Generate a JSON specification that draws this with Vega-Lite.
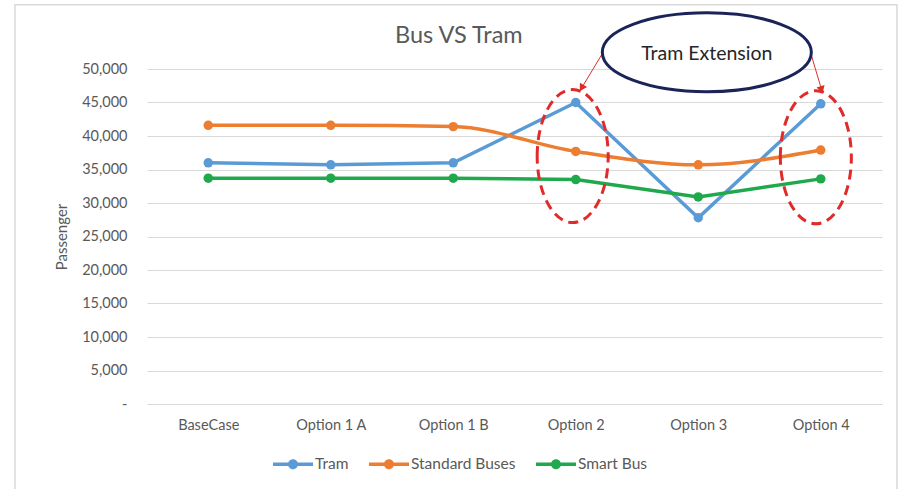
{
  "$schema": "https://vega.github.io/schema/vega-lite/v6.json",
  "width": 735,
  "height": 335,
  "autosize": "none",
  "padding": {"left": 147, "top": 69, "right": 21, "bottom": 85},
  "background": "white",
  "config": {"view": {"stroke": null}, "font": "Lato"},
  "title": {
    "text": "Bus VS Tram",
    "anchor": "start",
    "frame": "group",
    "dx": 248,
    "offset": -44,
    "fontSize": 23.5,
    "font": "Lato",
    "fontWeight": "normal",
    "color": "#595959"
  },
  "datasets": {
    "series": [
      {"option": "BaseCase", "idx": 0, "series": "Tram", "passengers": 36000},
      {"option": "Option 1 A", "idx": 1, "series": "Tram", "passengers": 35700},
      {"option": "Option 1 B", "idx": 2, "series": "Tram", "passengers": 36000},
      {"option": "Option 2", "idx": 3, "series": "Tram", "passengers": 45000},
      {"option": "Option 3", "idx": 4, "series": "Tram", "passengers": 27800},
      {"option": "Option 4", "idx": 5, "series": "Tram", "passengers": 44800},
      {"option": "BaseCase", "idx": 0, "series": "Standard Buses", "passengers": 41600},
      {"option": "Option 1 A", "idx": 1, "series": "Standard Buses", "passengers": 41600},
      {"option": "Option 1 B", "idx": 2, "series": "Standard Buses", "passengers": 41400},
      {"option": "Option 2", "idx": 3, "series": "Standard Buses", "passengers": 37700},
      {"option": "Option 3", "idx": 4, "series": "Standard Buses", "passengers": 35700},
      {"option": "Option 4", "idx": 5, "series": "Standard Buses", "passengers": 37900},
      {"option": "BaseCase", "idx": 0, "series": "Smart Bus", "passengers": 33700},
      {"option": "Option 1 A", "idx": 1, "series": "Smart Bus", "passengers": 33700},
      {"option": "Option 1 B", "idx": 2, "series": "Smart Bus", "passengers": 33700},
      {"option": "Option 2", "idx": 3, "series": "Smart Bus", "passengers": 33500},
      {"option": "Option 3", "idx": 4, "series": "Smart Bus", "passengers": 30900},
      {"option": "Option 4", "idx": 5, "series": "Smart Bus", "passengers": 33600}
    ]
  },
  "encoding": {
    "x": {
      "field": "idx",
      "type": "quantitative",
      "scale": {"domain": [-0.5, 5.5], "nice": false, "zero": false},
      "axis": {
        "values": [0, 1, 2, 3, 4, 5],
        "labelExpr": "['BaseCase','Option 1 A','Option 1 B','Option 2','Option 3','Option 4'][datum.value]",
        "title": null,
        "grid": false,
        "ticks": false,
        "domain": false,
        "labelPadding": 14,
        "labelFontSize": 14.5,
        "labelColor": "#595959",
        "labelFont": "Lato"
      }
    },
    "y": {
      "field": "passengers",
      "type": "quantitative",
      "scale": {"domain": [0, 50000], "nice": false},
      "axis": {
        "values": [0, 5000, 10000, 15000, 20000, 25000, 30000, 35000, 40000, 45000, 50000],
        "labelExpr": "datum.value == 0 ? '-\u00a0\u00a0\u00a0' : format(datum.value, ',')",
        "title": "Passenger",
        "grid": true,
        "gridColor": "#d9d9d9",
        "gridWidth": 1,
        "domain": false,
        "ticks": false,
        "labelPadding": 20,
        "labelFontSize": 14.5,
        "labelColor": "#595959",
        "labelFont": "Lato",
        "titleFont": "Lato",
        "titleFontSize": 15,
        "titleColor": "#595959",
        "titleFontWeight": "normal",
        "titlePadding": 12
      }
    }
  },
  "layer": [
    {
      "data": {"values": [{"idx": -1.578, "idx2": 5.622, "passengers": 59600, "passengers2": -14000}]},
      "mark": {"type": "rect", "fill": null, "filled": false, "stroke": "#d9d9d9", "strokeWidth": 1.5},
      "encoding": {"x2": {"field": "idx2"}, "y2": {"field": "passengers2"}}
    },
    {
      "data": {"name": "series"},
      "transform": [{"filter": "datum.series != 'Standard Buses'"}],
      "mark": {"type": "line", "strokeWidth": 3.5},
      "encoding": {
        "color": {
          "field": "series",
          "type": "nominal",
          "scale": {"domain": ["Tram", "Standard Buses", "Smart Bus"], "range": ["#5b9bd5", "#ed7d31", "#1fa84c"]},
          "legend": {
            "orient": "none",
            "legendX": 126,
            "legendY": 375,
            "direction": "horizontal",
            "title": null,
            "symbolType": "M-1,-0.09L1,-0.09L1,0.09L-1,0.09Z M-0.25,0A0.25,0.25 0 1,1 0.25,0A0.25,0.25 0 1,1 -0.25,0Z",
            "symbolSize": 1600,
            "symbolStrokeWidth": 0,
            "labelFontSize": 15.5,
            "labelColor": "#595959",
            "labelFont": "Lato",
            "labelOffset": 2,
            "columnPadding": 20,
            "encode": {"symbols": {"update": {"fill": {"scale": "color", "field": "value"}, "stroke": {"value": "transparent"}, "opacity": {"value": 1}}}}
          }
        }
      }
    },
    {
      "data": {"name": "series"},
      "transform": [{"filter": "datum.series == 'Standard Buses'"}],
      "mark": {"type": "line", "strokeWidth": 3.5, "interpolate": "monotone"},
      "encoding": {"color": {"field": "series", "type": "nominal"}}
    },
    {
      "data": {"name": "series"},
      "mark": {"type": "point", "filled": true, "size": 90, "opacity": 1},
      "encoding": {"color": {"field": "series", "type": "nominal"}}
    },
    {
      "data": {"values": [{"idx": 2.975, "passengers": 37000}, {"idx": 4.96, "passengers": 36830}]},
      "mark": {
        "type": "point",
        "shape": "M-0.534,0A0.534,1 0 1,1 0.534,0A0.534,1 0 1,1 -0.534,0Z",
        "size": 17689,
        "filled": false,
        "stroke": "#e02b2b",
        "strokeWidth": 3,
        "strokeDash": [10, 6],
        "opacity": 1
      }
    },
    {
      "data": {"values": [{"idx": 3.22, "passengers": 52390, "idx2": 3.048, "passengers2": 47160}, {"idx": 4.926, "passengers": 51880, "idx2": 5.007, "passengers2": 46910}]},
      "mark": {"type": "rule", "stroke": "#e02b2b", "strokeWidth": 1},
      "encoding": {"x2": {"field": "idx2"}, "y2": {"field": "passengers2"}}
    },
    {
      "data": {"values": [{"idx": 3.048, "passengers": 47160}]},
      "mark": {"type": "point", "shape": "triangle-up", "size": 70, "filled": true, "color": "#e02b2b", "angle": 211, "opacity": 1}
    },
    {
      "data": {"values": [{"idx": 5.007, "passengers": 46910}]},
      "mark": {"type": "point", "shape": "triangle-up", "size": 70, "filled": true, "color": "#e02b2b", "angle": 163, "opacity": 1}
    },
    {
      "data": {"values": [{"idx": 4.07, "passengers": 52500}]},
      "mark": {
        "type": "point",
        "shape": "M-1,0A1,0.378 0 1,1 1,0A1,0.378 0 1,1 -1,0Z",
        "size": 43681,
        "filled": true,
        "fill": "white",
        "stroke": "#1b2459",
        "strokeWidth": 3,
        "opacity": 1,
        "fillOpacity": 1
      }
    },
    {
      "data": {"values": [{"idx": 4.07, "passengers": 52300, "label": "Tram Extension"}]},
      "mark": {"type": "text", "font": "Lato", "fontSize": 19.5, "color": "#262626", "align": "center", "baseline": "middle"},
      "encoding": {"text": {"field": "label"}}
    }
  ]
}
